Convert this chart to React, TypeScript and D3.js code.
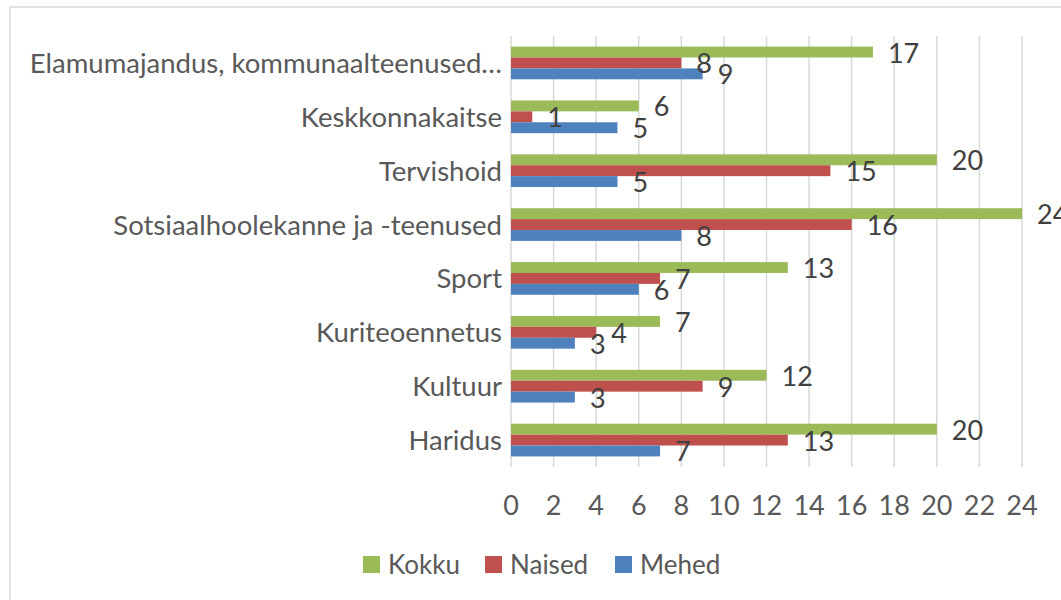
import React from "react";
import * as d3 from "d3";

const categories = [
  "Haridus",
  "Kultuur",
  "Kuriteoennetus",
  "Sport",
  "Sotsiaalhoolekanne ja -teenused",
  "Tervishoid",
  "Keskkonnakaitse",
  "Elamumajandus, kommunaalteenused…",
];
const seriesNames = ["Kokku", "Naised", "Mehed"];
const kokku = [20, 12, 7, 13, 24, 20, 6, 17];
const naised = [13, 9, 4, 7, 16, 15, 1, 8];
const mehed = [7, 3, 3, 6, 8, 5, 5, 9];
const tickValues = [0, 2, 4, 6, 8, 10, 12, 14, 16, 18, 20, 22, 24];
const colors = ["#9BBB59", "#C0504D", "#4F81BD"];

const W = 1061;
const H = 600;
const FONT = "Lato, 'Open Sans', sans-serif";
const FS = 27;
const CAT_FS = 27.5;

export default function App() {
  const seriesValues = [kokku, naised, mehed];
  const x = d3.scaleLinear().domain([0, 24]).range([511, 1022]);
  const y = d3
    .scaleBand<string>()
    .domain([...categories].reverse())
    .range([36, 467])
    .paddingInner(0)
    .paddingOuter(0);
  const band = y.bandwidth();
  const barH = band / 4.94;
  const groupOff = (band - 3 * barH) / 2;
  const legendX = [363, 485, 615];

  return (
    <svg
      width={W}
      height={H}
      style={{ position: "absolute", left: 0, top: 0, background: "#fff" }}
      fontFamily={FONT}
    >
      <rect x={0} y={0} width={W} height={H} fill="#fff" />
      <rect
        x={10}
        y={7}
        width={1100}
        height={700}
        fill="#fff"
        stroke="#D9D9D9"
        strokeWidth={1.5}
      />
      {tickValues.map((t) => (
        <line
          key={"g" + t}
          x1={x(t)}
          x2={x(t)}
          y1={36}
          y2={467}
          stroke="#D9D9D9"
          strokeWidth={1.5}
        />
      ))}
      {categories.map((c, i) => {
        const y0 = (y(c) as number) + groupOff;
        return (
          <g key={c}>
            {seriesValues.map((vals, s) => (
              <rect
                key={s}
                x={x(0)}
                y={y0 + s * barH}
                width={x(vals[i]) - x(0)}
                height={barH}
                fill={colors[s]}
              />
            ))}
          </g>
        );
      })}
      {categories.map((c, i) => {
        const y0 = (y(c) as number) + groupOff;
        return (
          <g key={"l" + c}>
            {seriesValues.map((vals, s) => (
              <text
                key={s}
                x={x(vals[i]) + 15}
                y={y0 + s * barH + barH / 2 + 10.5}
                fontSize={FS}
                fill="#404040"
              >
                {vals[i]}
              </text>
            ))}
          </g>
        );
      })}
      {categories.map((c) => (
        <text
          key={"c" + c}
          x={502}
          y={(y(c) as number) + band / 2 + 10}
          textAnchor="end"
          fontSize={CAT_FS}
          fill="#595959"
        >
          {c}
        </text>
      ))}
      {tickValues.map((t) => (
        <text
          key={"t" + t}
          x={x(t)}
          y={515}
          textAnchor="middle"
          fontSize={FS}
          fill="#595959"
        >
          {t}
        </text>
      ))}
      {seriesNames.map((n, s) => (
        <g key={n}>
          <rect x={legendX[s]} y={556} width={17} height={17} fill={colors[s]} />
          <text x={legendX[s] + 25} y={574} fontSize={26} fill="#595959">
            {n}
          </text>
        </g>
      ))}
    </svg>
  );
}
